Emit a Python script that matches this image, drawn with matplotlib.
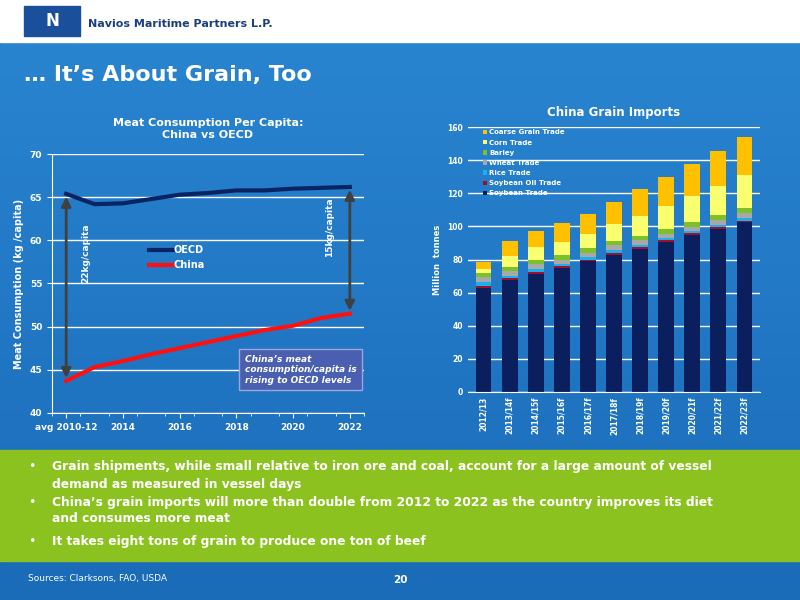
import numpy as np
import matplotlib.pyplot as plt
from matplotlib.patches import Rectangle, FancyArrowPatch

# left chart data
years_lbl = ['avg 2010-12', '2014', '2016', '2018', '2020', '2022']
oecd = [65.4, 64.2, 64.3, 64.8, 65.3, 65.5, 65.8, 65.8, 66.0, 66.1, 66.2]
china = [43.7, 45.3, 46.0, 46.8, 47.5, 48.2, 48.9, 49.6, 50.1, 51.0, 51.5]

# right chart data
seasons = ['2012/13', '2013/14f', '2014/15f', '2015/16f', '2016/17f', '2017/18f',
           '2018/19f', '2019/20f', '2020/21f', '2021/22f', '2022/23f']
soybean = [62.5, 67.5, 71.5, 75, 79, 83, 86.5, 90.5, 95, 98.5, 102.5]
soy_oil = [1.5, 1.3, 1, 1, 1, 1, 1, 1, 0.8, 1, 1]
rice = [2.5, 1.5, 1.5, 1.5, 1.5, 1.5, 1.5, 1.5, 1.2, 1.5, 1.5]
wheat = [3, 2.5, 3, 2.5, 2.5, 3, 2.5, 2.5, 2.5, 3, 3]
barley = [2.5, 2.5, 3, 2.5, 3, 2.5, 3, 3, 3, 3, 3]
corn = [2, 7, 7.5, 8, 8.5, 10.5, 12, 14, 16, 17.5, 20]
coarse = [4.5, 9, 10, 11.5, 12, 13.5, 16, 17.5, 19, 21, 23]

fig = plt.figure(figsize=(8, 6), dpi=100)
bg = fig.add_axes([0, 0, 1, 1])
grad = np.linspace(0, 1, 256).reshape(-1, 1)
bg.imshow(grad, aspect='auto', cmap=plt.matplotlib.colors.LinearSegmentedColormap.from_list(
    'b', ['#2a86d2', '#1a6bb8']), extent=[0, 1, 0, 1])
bg.add_patch(Rectangle((0, 0.93), 1, 0.07, color='white'))
bg.add_patch(Rectangle((0.03, 0.94), 0.07, 0.05, color='#1a4f9c'))
bg.text(0.065, 0.965, 'N', color='white', fontsize=12, fontweight='bold', ha='center', va='center')
bg.text(0.11, 0.96, 'Navios Maritime Partners L.P.', color='#1a3f7c', fontsize=8, fontweight='bold', va='center')
bg.text(0.03, 0.875, '… It’s About Grain, Too', color='white', fontsize=16, fontweight='bold', va='center')
bg.add_patch(Rectangle((0, 0.065), 1, 0.185, color='#8cc21f'))
bullets = ['Grain shipments, while small relative to iron ore and coal, account for a large amount of vessel',
           'demand as measured in vessel days',
           'China’s grain imports will more than double from 2012 to 2022 as the country improves its diet',
           'and consumes more meat',
           'It takes eight tons of grain to produce one ton of beef']
ys = [0.223, 0.193, 0.163, 0.135, 0.098]
for i, (t, y) in enumerate(zip(bullets, ys)):
    if i in (0, 2, 4):
        bg.text(0.035, y, '•', color='white', fontsize=9, va='center')
    bg.text(0.065, y, t, color='white', fontsize=8.8, fontweight='bold', va='center')
bg.text(0.035, 0.035, 'Sources: Clarksons, FAO, USDA', color='white', fontsize=6.5, va='center')
bg.text(0.5, 0.033, '20', color='white', fontsize=7.5, fontweight='bold', va='center', ha='center')
bg.set_xlim(0, 1); bg.set_ylim(0, 1); bg.axis('off')

# left chart
ax = fig.add_axes([0.065, 0.312, 0.39, 0.431])
ax.set_facecolor('none')
x = np.arange(len(oecd))
ax.plot(x, oecd, color='#0a2463', lw=3, label='OECD')
ax.plot(x, china, color='#ff1010', lw=3, label='China')
ax.set_xlim(-0.5, 10.5)
ax.set_ylim(40, 70)
ax.set_xticks(np.arange(0, 11, 2))
ax.set_xticklabels(years_lbl)
ax.set_xticks(np.arange(-0.5, 11, 1), minor=True)
ax.set_yticks(range(40, 71, 5))
ax.yaxis.grid(True, color='white', lw=1)
ax.set_axisbelow(True)
for s in ['top', 'right']:
    ax.spines[s].set_visible(False)
for s in ['left', 'bottom']:
    ax.spines[s].set_color('white')
ax.tick_params(colors='white', labelsize=6.5, which='both')
for lab in ax.get_xticklabels() + ax.get_yticklabels():
    lab.set_fontweight('bold')
ax.set_ylabel('Meat Consumption (kg /capita)', color='white', fontsize=7, fontweight='bold')
ax.set_title('Meat Consumption Per Capita:\nChina vs OECD', color='white', fontsize=8, fontweight='bold', pad=12)
ax.legend(loc='center', bbox_to_anchor=(0.4, 0.6), frameon=False,
          labelcolor='white', handlelength=2.5, handletextpad=0.1, prop={'weight': 'bold', 'size': 7})
for ya, yb, xv, txt, tx in [(china[0], oecd[0], 0, '22kg/capita', 0.7), (china[-1], oecd[-1], 10, '15kg/capita', -0.7)]:
    ax.add_patch(FancyArrowPatch((xv, ya), (xv, yb), arrowstyle='<|-|>', mutation_scale=14, color='#404040', lw=2))
    ax.text(xv + tx, 58.5 if xv == 0 else 61.5, txt, rotation=90, color='white', fontsize=6.5, fontweight='bold', ha='center', va='center')
ax.text(6.3, 45.0, 'China’s meat\nconsumption/capita is\nrising to OECD levels', color='white', fontsize=6.5,
        fontweight='bold', style='italic', va='center',
        bbox=dict(boxstyle='square,pad=0.6', fc='#4a5fb0', ec='#9aa6e0'))

# right chart
bx = fig.add_axes([0.585, 0.347, 0.365, 0.441])
bx.set_facecolor('none')
series = [(soybean, 'Soybean Trade', '#0b1f5e'), (soy_oil, 'Soybean Oil Trade', '#a0102a'),
          (rice, 'Rice Trade', '#1ab0f0'), (wheat, 'Wheat Trade', '#a8a8a8'),
          (barley, 'Barley', '#7cc02a'), (corn, 'Corn Trade', '#faff70'),
          (coarse, 'Coarse Grain Trade', '#ffc000')]
xb = np.arange(len(seasons))
bottom = np.zeros(len(seasons))
for vals, name, col in series:
    bx.bar(xb, vals, 0.6, bottom=bottom, color=col, label=name)
    bottom += np.array(vals)
bx.set_ylim(0, 160)
bx.set_xlim(-0.6, 10.6)
bx.set_yticks(range(0, 161, 20))
bx.yaxis.grid(True, color='white', lw=1)
bx.set_axisbelow(True)
bx.set_xticks(xb)
bx.set_xticklabels(seasons, rotation=90)
for s in ['top', 'right', 'left']:
    bx.spines[s].set_visible(False)
bx.spines['bottom'].set_color('white')
bx.tick_params(colors='white', labelsize=5.5, length=0)
for lab in bx.get_xticklabels() + bx.get_yticklabels():
    lab.set_fontweight('bold')
bx.set_ylabel('Million  tonnes', color='white', fontsize=6, fontweight='bold')
bx.set_title('China Grain Imports', color='white', fontsize=8.5, fontweight='bold', pad=8)
h, l = bx.get_legend_handles_labels()
bx.legend(h[::-1], l[::-1], loc='upper left', bbox_to_anchor=(0.03, 1.015), frameon=False,
          labelcolor='white', handlelength=0.6, handleheight=0.6, handletextpad=0.3,
          labelspacing=0.6, prop={'weight': 'bold', 'size': 5})

fig.savefig('out.png', dpi=100)
